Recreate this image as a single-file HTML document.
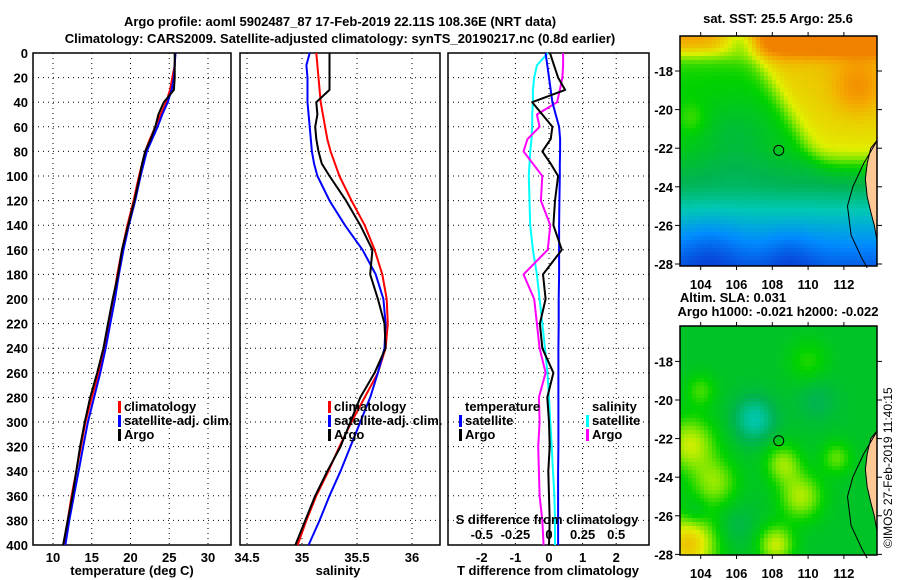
<!DOCTYPE html>
<html><head><meta charset="utf-8">
<style>
html,body{margin:0;padding:0;background:#fff;}
svg{display:block;font-family:"Liberation Sans",sans-serif;}
.b{font-weight:bold;font-size:13px;}
</style></head>
<body>
<svg id="chart" width="900" height="580" viewBox="0 0 900 580">
<text class="b" x="340" y="26" text-anchor="middle">Argo profile: aoml 5902487_87 17-Feb-2019 22.11S 108.36E (NRT data)</text>
<text class="b" x="340" y="43" text-anchor="middle">Climatology: CARS2009. Satellite-adjusted climatology: synTS_20190217.nc (0.8d earlier)</text>
<text class="b" x="778" y="23" text-anchor="middle">sat. SST: 25.5 Argo: 25.6</text>
<text class="b" x="733" y="302" text-anchor="middle">Altim. SLA: 0.031</text>
<text class="b" x="778" y="316" text-anchor="middle">Argo h1000: -0.021 h2000: -0.022</text>
<text x="892" y="548" font-size="12" transform="rotate(-90 892 548)">©IMOS 27-Feb-2019 11:40:15</text>
<g id="g"></g>
</svg>
<script>
// ---- data ----
const depths = [0,10,20,30,40,50,60,70,80,90,100,120,140,160,180,200,220,240,260,280,300,320,340,360,380,400];
const tempArgo = [25.7,25.7,25.7,25.6,24.3,23.6,23.2,22.6,21.9,21.5,21.2,20.5,19.7,18.9,18.4,17.7,17.1,16.5,15.7,14.8,14.1,13.5,13.0,12.5,11.9,11.3];
const tempClim = [25.8,25.7,25.4,25.1,24.6,23.9,23.2,22.5,21.9,21.5,21.1,20.4,19.6,18.9,18.3,17.8,17.2,16.6,15.9,15.0,14.2,13.6,13.0,12.4,11.9,11.4];
const tempSat = [25.8,25.7,25.6,25.3,24.8,24.1,23.5,22.8,22.1,21.7,21.3,20.6,19.8,19.1,18.5,18.0,17.4,16.8,16.1,15.3,14.5,13.9,13.3,12.7,12.1,11.6];
const salArgo = [35.25,35.25,35.25,35.25,35.13,35.14,35.12,35.13,35.15,35.18,35.25,35.40,35.53,35.64,35.62,35.69,35.75,35.76,35.66,35.53,35.44,35.35,35.23,35.12,35.03,34.94];
const salClim = [35.13,35.14,35.15,35.16,35.17,35.19,35.21,35.23,35.26,35.30,35.34,35.45,35.57,35.66,35.73,35.77,35.78,35.76,35.69,35.57,35.45,35.34,35.24,35.13,35.04,34.96];
const salSat = [35.07,35.04,35.05,35.05,35.05,35.06,35.07,35.08,35.09,35.11,35.14,35.25,35.39,35.55,35.67,35.74,35.76,35.75,35.69,35.62,35.53,35.44,35.35,35.25,35.16,35.06];
const dTempSat = [-0.1,-0.05,0.0,0.05,0.1,0.2,0.3,0.33,0.33,0.32,0.32,0.31,0.3,0.3,0.3,0.29,0.29,0.28,0.28,0.28,0.28,0.28,0.27,0.27,0.27,0.27];
const dTempArgo = [0.03,0.15,0.27,0.48,-0.5,-0.2,0.1,0.05,-0.2,0.05,0.27,0.18,0.13,0.38,-0.18,-0.1,-0.27,-0.2,0.13,-0.05,0.0,0.02,-0.02,0.0,0.02,0.0];
const dSalSat = [-0.008,-0.09,-0.11,-0.12,-0.12,-0.125,-0.125,-0.13,-0.14,-0.145,-0.15,-0.145,-0.14,-0.12,-0.09,-0.07,-0.05,-0.03,-0.012,0.0,0.01,0.02,0.03,0.04,0.045,0.045];
const dSalArgo = [0.105,0.105,0.1,0.08,0.06,-0.09,-0.07,-0.16,-0.19,-0.12,-0.05,-0.06,0.01,-0.01,-0.19,-0.11,-0.09,-0.07,-0.025,-0.075,-0.07,-0.08,-0.075,-0.07,-0.05,-0.04];
const depthTicks = [0,20,40,60,80,100,120,140,160,180,200,220,240,260,280,300,320,340,360,380,400];
const tempTicks = [10,15,20,25,30];
const salTicks = [34.5,35,35.5,36];
const tdTicks = [-2,-1,0,1,2];
const sdTicks = [-0.5,-0.25,0,0.25,0.5];
const lonTicks = [104,106,108,110,112];
const latTicks = [-18,-20,-22,-24,-26,-28];
const argoLon = 108.36, argoLat = -22.11;

// ---- helpers ----
const NS='http://www.w3.org/2000/svg';
const G=document.getElementById('g');
function el(t,a,p){const e=document.createElementNS(NS,t);for(const k in a)e.setAttribute(k,a[k]);(p||G).appendChild(e);return e;}
const yD = d => 53 + d*1.23;
const xT = t => 53 + (t-10)*7.75;
const xS = s => 302 + (s-35)*110;
const xTD = t => 549 + t*33.6;
const xSD = s => 549 + s*4*33.6;
const xLon = l => 700.7 + (l-104)*17.9;
const yLatTop = la => 71 + (-18-la)*19.3;
const yLatBot = la => 400 + (-20-la)*19.3;

function panel(name,x0,x1,y0,y1,xt,xf,fmt){
  const grp=el('g',{});
  
  
  depthTicks.forEach(d=>{const y=yD(d);
    if(d>0&&d<400){const l=el('line',{x1:x0,x2:x1,y1:y,y2:y,stroke:'#000','stroke-dasharray':'1 4','stroke-width':1},grp);
      }
  });
  xt.forEach(v=>{const x=xf(v); if(x>x0+2&&x<x1-2){const l=el('line',{x1:x,x2:x,y1:y0,y2:y1,stroke:'#000','stroke-dasharray':'1 4','stroke-width':1},grp);
    }
    const t=el('text',{x:x,y:y1+17,'text-anchor':'middle',class:'b'},grp);t.textContent=fmt(v);
    
  });
  const r=el('rect',{x:x0,y:y0,width:x1-x0,height:y1-y0,fill:'none',stroke:'#000','stroke-width':1.5},grp);
  
  return grp;
}
function line(grp,xs,xf,color,name,w){
  const pts=xs.map((v,i)=>xf(v).toFixed(1)+','+yD(depths[i]).toFixed(1)).join(' ');
  const p=el('polyline',{points:pts,fill:'none',stroke:color,'stroke-width':w||2,'stroke-linejoin':'round'},grp);
  
}
function legend(grp,x,y,items){
  items.forEach((it,i)=>{
    const r=el('rect',{x:x,y:y+i*14-10,width:3,height:12,fill:it[1]},grp);
    
    const t=el('text',{x:x+6,y:y+i*14,class:'b'},grp);t.textContent=it[0];
    
  });
}

depthTicks.forEach(d=>{const t=el('text',{x:28,y:yD(d)+5,'text-anchor':'end',class:'b'});t.textContent=d;
  });

const p1=panel('temperature-panel',33,231,53,545,tempTicks,xT,v=>v);
line(p1,tempClim,xT,'#f00','temp-climatology-line');
line(p1,tempSat,xT,'#00f','temp-satellite-line');
line(p1,tempArgo,xT,'#000','temp-argo-line');
legend(p1,118,411,[['climatology','#f00'],['satellite-adj. clim.','#00f'],['Argo','#000']]);
let t=el('text',{x:132,y:575,'text-anchor':'middle',class:'b'});t.textContent='temperature (deg C)';


const p2=panel('salinity-panel',240,440,53,545,salTicks,xS,v=>v);
line(p2,salClim,xS,'#f00','sal-climatology-line');
line(p2,salSat,xS,'#00f','sal-satellite-line');
line(p2,salArgo,xS,'#000','sal-argo-line');
legend(p2,328,411,[['climatology','#f00'],['satellite-adj. clim.','#00f'],['Argo','#000']]);
t=el('text',{x:338,y:575,'text-anchor':'middle',class:'b'});t.textContent='salinity';


const p3=panel('difference-panel',448,649,53,545,tdTicks,xTD,v=>v);
line(p3,dSalSat,xSD,'#0ff','sal-diff-satellite-line');
line(p3,dSalArgo,xSD,'#f0f','sal-diff-argo-line');
line(p3,dTempSat,xTD,'#00f','temp-diff-satellite-line');
line(p3,dTempArgo,xTD,'#000','temp-diff-argo-line');
legend(p3,459,411,[['temperature','none'],['satellite','#00f'],['Argo','#000']]);
legend(p3,586,411,[['salinity','none'],['satellite','#0ff'],['Argo','#f0f']]);
t=el('text',{x:547,y:524,'text-anchor':'middle',class:'b'},p3);t.textContent='S difference from climatology';

sdTicks.forEach(v=>{const tt=el('text',{x:xSD(v),y:539,'text-anchor':'middle',class:'b'},p3);tt.textContent=v;
  });
t=el('text',{x:548,y:575,'text-anchor':'middle',class:'b'});t.textContent='T difference from climatology';


// ---- maps ----
function cmap(v){
  const stops=[[0,[10,40,200]],[0.22,[0,140,255]],[0.38,[0,200,180]],[0.5,[0,180,80]],[0.62,[0,210,0]],[0.7,[120,230,0]],[0.78,[225,240,0]],[0.92,[245,165,0]],[1,[240,130,0]]];
  v=Math.max(0,Math.min(1,v));
  for(let i=1;i<stops.length;i++){if(v<=stops[i][0]){const a=stops[i-1],b=stops[i],f=(v-a[0])/(b[0]-a[0]);
    return 'rgb('+a[1].map((c,k)=>Math.round(c+(b[1][k]-c)*f)).join(',')+')';}}
  return 'rgb(240,130,0)';
}
function g2(x,y,cx,cy,s){return Math.exp(-((x-cx)**2+(y-cy)**2)/(2*s*s));}
function sig(x){return 1/(1+Math.exp(-x));}
function sst(lon,lat){
  let v;
  if(lat>-22) v=0.59+0.01*(lat+22); else if(lat>-24) v=0.59-0.05*(-22-lat); else v=0.49-0.09*(-24-lat);
  v-=0.06*g2(lon,lat,106,-21.5,1.5);
  const east=sig((lon-108.8+0.6*(lat+20))*2.5)*sig((lat+22.8)*2.5);
  v+=0.22*east;
  v+=0.12*g2(lon,lat,112.8,-18.8,1.0);
  const strip=sig((lat+17.1)*4)*(1-0.8*g2(lon,lat,106.5,-16.5,0.9));
  v+=0.28*strip;
  v+=0.06*g2(lon,lat,103.5,-20.5,0.6);
  v-=0.08*g2(lon,lat,104.5,-27.5,1.2)+0.07*g2(lon,lat,109,-27.7,1);
  return v;
}
function sla(lon,lat){
  let v=0.56;
  v+=0.3*g2(lon,lat,103.3,-27.5,1.1)+0.2*g2(lon,lat,103.4,-22.3,1.0)+0.18*g2(lon,lat,109.6,-25,0.85)
   +0.16*g2(lon,lat,108.6,-23.3,0.7)+0.2*g2(lon,lat,108.2,-27.5,0.7)+0.15*g2(lon,lat,104.8,-24.3,0.9)
   +0.12*g2(lon,lat,111.6,-23,0.6)+0.1*g2(lon,lat,104,-19.5,0.6)+0.08*g2(lon,lat,110,-18,0.8);
  v-=0.17*g2(lon,lat,107,-21,0.8)+0.07*g2(lon,lat,103.7,-25.8,0.5)+0.06*g2(lon,lat,110.5,-20,0.8)+0.05*g2(lon,lat,106,-26.5,0.8);
  return v;
}
function map(name,y0,y1,yLat,fn,ticks){
  const grp=el('g',{});
  
  
  const cs=4;
  for(let y=y0;y<y1;y+=cs){for(let x=680;x<877;x+=cs){
    const lon=104+(x+cs/2-700.7)/17.9, lat=-18-((y+cs/2)-(yLat(-18)))/19.3;
    el('rect',{x:x,y:y,width:Math.min(cs,877-x),height:Math.min(cs,y1-y),fill:cmap(fn(lon,lat))},grp);
  }}
  const land=[[113.85,-21.6],[113.5,-22.0],[113.3,-22.8],[113.2,-23.6],[113.3,-24.5],[113.5,-25.3],[113.7,-26.0],[113.85,-26.8]];
  const lp=land.map(p=>xLon(p[0])+','+yLat(p[1])).join(' ');
  const lnd=el('polygon',{points:lp,fill:'#fcc894',stroke:'#000','stroke-width':1},grp);
  
  const iso=[[113.8,-21.7],[113.1,-22.8],[112.5,-24.0],[112.2,-25.0],[112.4,-26.5],[113.0,-27.7],[113.3,-28.2]];
  const ip=el('polyline',{points:iso.map(p=>xLon(p[0])+','+yLat(p[1])).join(' '),fill:'none',stroke:'#000','stroke-width':1},grp);
  
  const c=el('circle',{cx:xLon(argoLon),cy:yLat(argoLat),r:5,fill:'none',stroke:'#000','stroke-width':1},grp);
  
  const fr=el('rect',{x:680,y:y0,width:197,height:y1-y0,fill:'none',stroke:'#000','stroke-width':1.5},grp);
  
  ticks.forEach(la=>{const y=yLat(la);
    el('line',{x1:675,x2:680,y1:y,y2:y,stroke:'#000'},grp);el('line',{x1:877,x2:882,y1:y,y2:y,stroke:'#000'},grp);
    const tt=el('text',{x:673,y:y+5,'text-anchor':'end',class:'b'},grp);tt.textContent=la;
    });
  lonTicks.forEach(lo=>{const x=xLon(lo);
    el('line',{x1:x,x2:x,y1:y0-4,y2:y0,stroke:'#000'},grp);el('line',{x1:x,x2:x,y1:y1,y2:y1+4,stroke:'#000'},grp);
    const tt=el('text',{x:x,y:y1+23,'text-anchor':'middle',class:'b'},grp);tt.textContent=lo;
    });
}
map('sst-map',36,266,yLatTop,sst,latTicks);
map('sla-map',326,555,yLatBot,sla,[-18,-20,-22,-24,-26,-28]);
</script>
</body></html>
